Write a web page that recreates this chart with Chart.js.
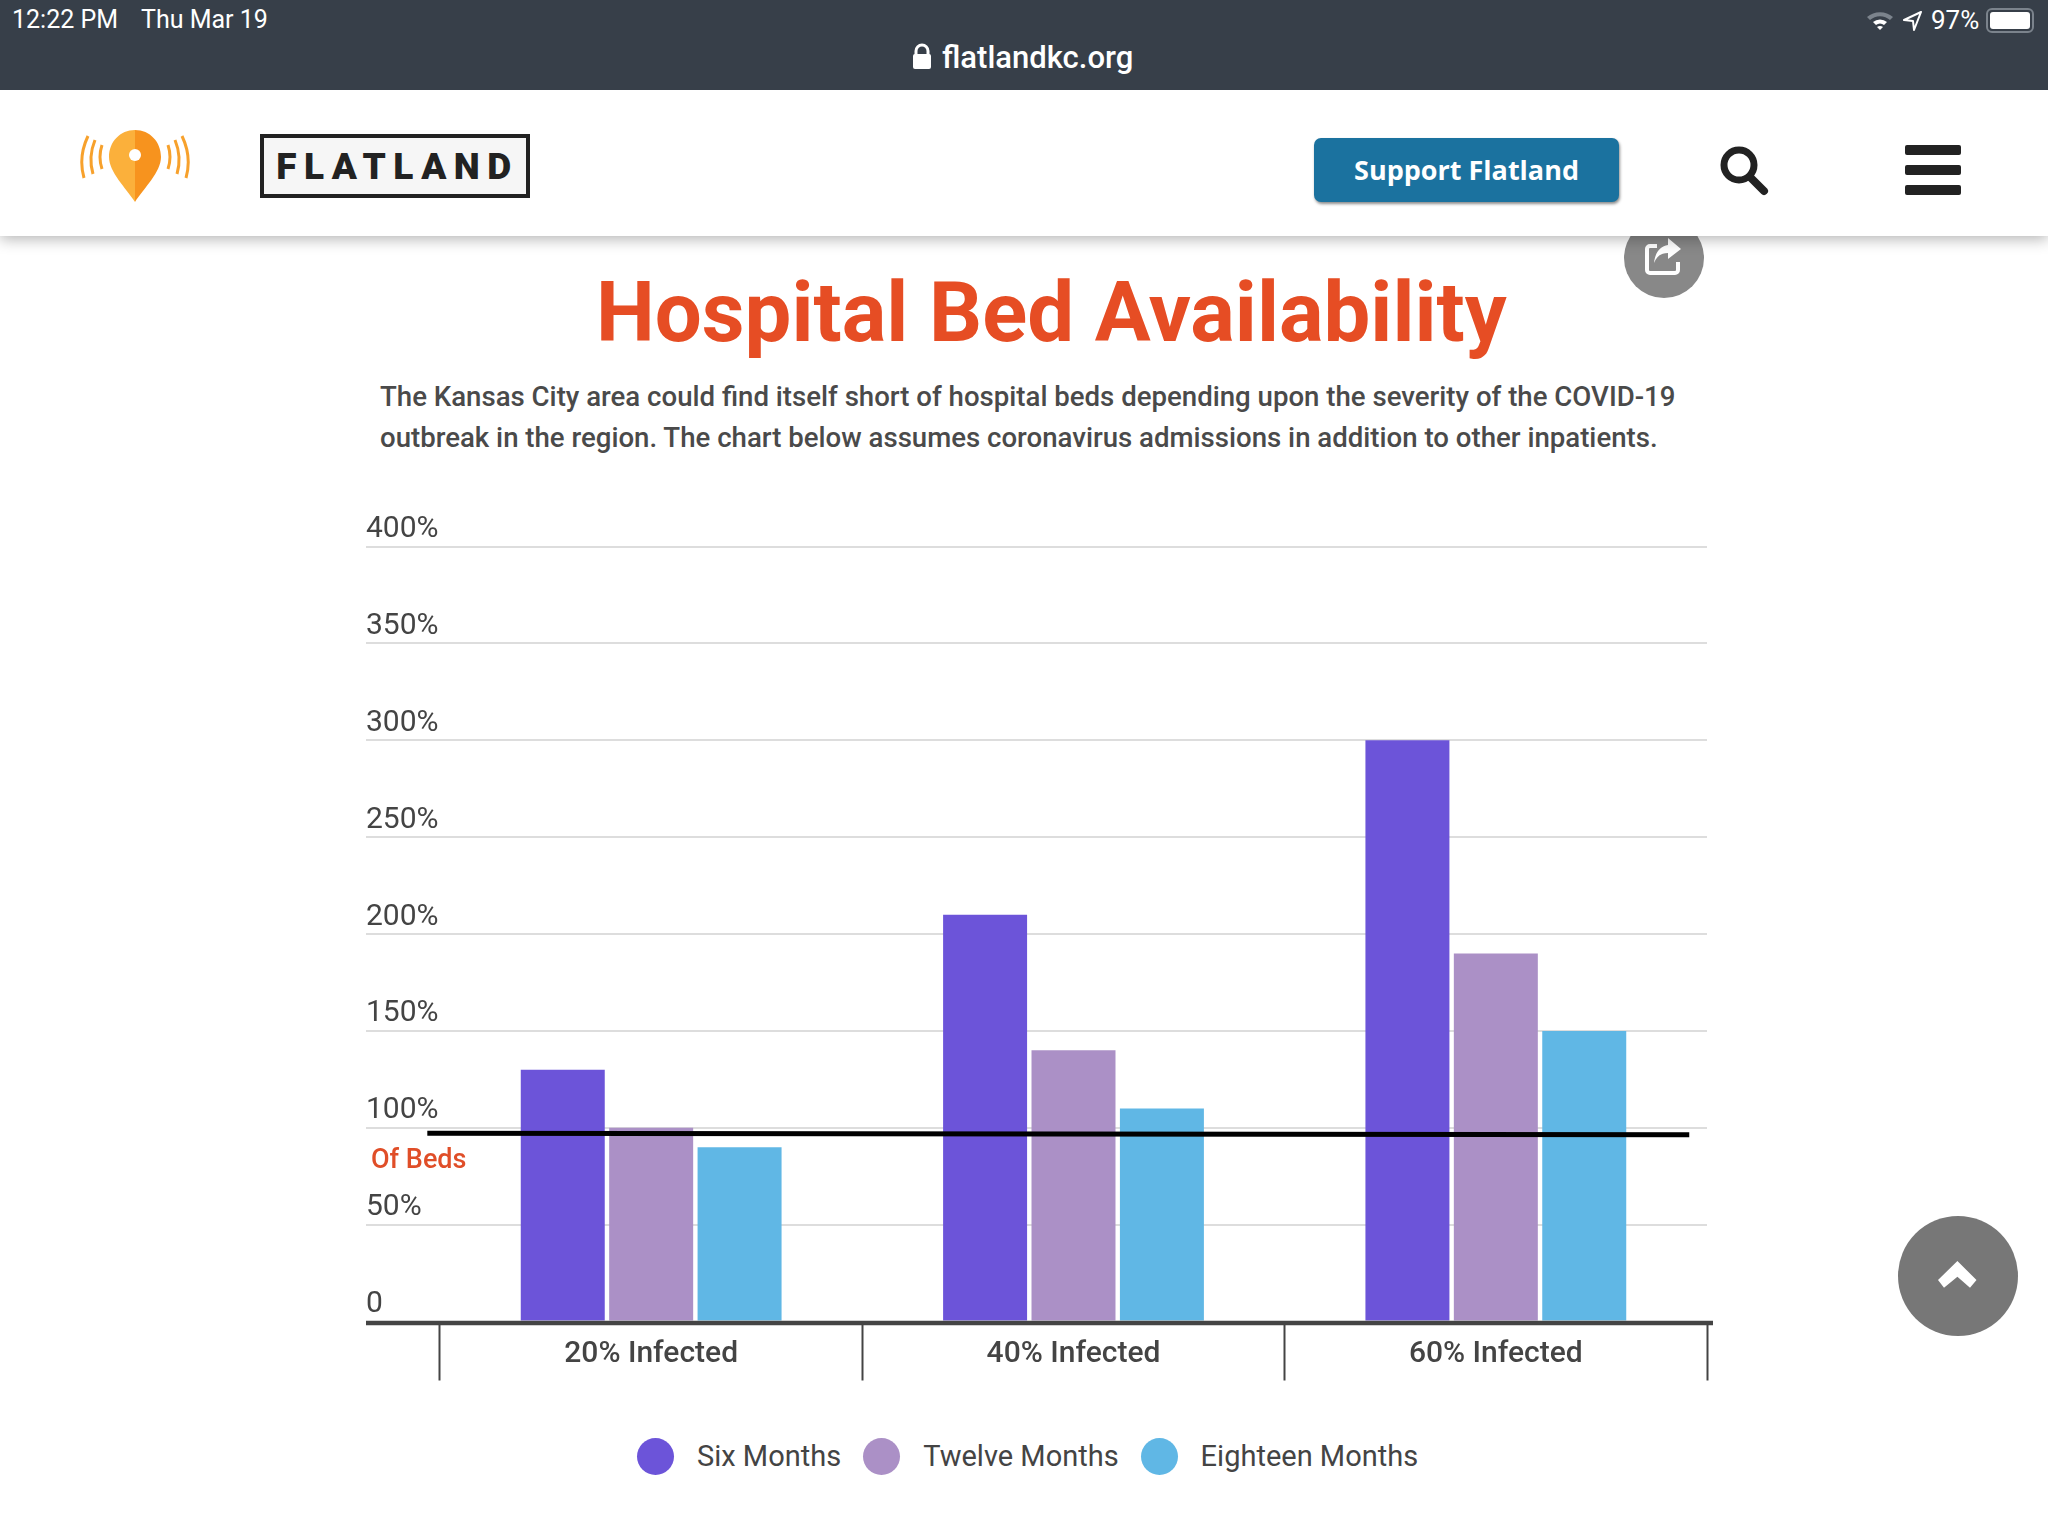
<!DOCTYPE html>
<html lang="en">
<head>
    <meta charset="UTF-8">
    <title>Hospital Bed Availability</title>
    <style>
        html, body { margin: 0; padding: 0; background: #fff; }
        body { width: 2048px; height: 1536px; position: relative; overflow: hidden; font-family: Roboto, sans-serif; color: #444; }
        .abs { position: absolute; white-space: nowrap; }
        #statusbar { left: 0; top: 0; width: 2048px; height: 90px; background: #373f49; z-index: 3; color: #fff; }
        #nav { left: 0; top: 90px; width: 2048px; height: 146px; background: #fff; box-shadow: 0 3px 14px rgba(0,0,0,0.3); z-index: 2; }
        #flatland { left: 260px; top: 134px; width: 262px; height: 56px; border: 4px solid #222; background: #f6f6f6; z-index: 3;
            font: 900 37px/57px Roboto, sans-serif; letter-spacing: 7.5px; text-indent: 5px; color: #222; text-align: center; }
        #support { left: 1314px; top: 138px; width: 305px; height: 64px; background: #1b729f; border-radius: 7px; box-shadow: 1px 2px 3px rgba(0,0,0,0.45); z-index: 3;
            color: #fff; font: 700 27px/64px "Open Sans", sans-serif; text-align: center; }
        #title { left: 596px; top: 263px; font: 700 83.3px/100px Roboto, sans-serif; color: #e64d24; }
        .para { left: 380px; font: 500 27.6px/36px Roboto, sans-serif; color: #4a4a4a; }
        #wrap { position: absolute; left: 340px; top: 500px; width: 1400px; height: 900px; }
        #ofBeds { left: 371px; top: 1143px; font: 500 27px/32px Roboto, sans-serif; color: #e04e28; }
        #legend { position: absolute; left: 637px; top: 1437px; height: 38px; display: flex; align-items: center; font-size: 29px; color: #444; }
        #legend .dot { width: 37px; height: 37px; border-radius: 50%; margin-right: 23px; }
        #legend .item { display: flex; align-items: center; margin-right: 22px; }
    </style>
</head>
<body>
    <div class="abs" id="statusbar">
        <div class="abs" style="left:12px;top:5px;font-size:25px;line-height:30px">12:22 PM</div>
        <div class="abs" style="left:141px;top:5px;font-size:25px;line-height:30px">Thu Mar 19</div>
        <div class="abs" style="left:942px;top:39px;font-size:31px;line-height:38px;font-weight:500">flatlandkc.org</div>
        <svg class="abs" style="left:912px;top:43px" width="20" height="27" viewBox="0 0 20 27">
            <path d="M4 12 V8 a6 6 0 0 1 12 0 V12" fill="none" stroke="#fff" stroke-width="3"/>
            <rect x="1" y="11" width="18" height="15" rx="2" fill="#fff"/>
        </svg>
        <svg class="abs" style="left:1866px;top:8px" width="30" height="24" viewBox="0 0 30 24">
            <path d="M1 9 a20 20 0 0 1 26 0 l-3 3 a15 15 0 0 0 -20 0 z" fill="#7b838c"/>
            <path d="M7 14 a11 11 0 0 1 14 0 l-3 3 a6 6 0 0 0 -8 0 z" fill="#fff"/>
            <path d="M11 19 a5 5 0 0 1 6 0 l-3 3 z" fill="#fff"/>
        </svg>
        <svg class="abs" style="left:1903px;top:11px" width="20" height="20" viewBox="0 0 20 20">
            <path d="M18 1 L1 9 L10 10 L11 19 Z" fill="none" stroke="#fff" stroke-width="2" stroke-linejoin="round"/>
        </svg>
        <div class="abs" style="left:1931px;top:5px;font-size:26px;line-height:30px">97%</div>
        <div class="abs" style="left:1986px;top:8px;width:44px;height:21px;border:2px solid #7b838c;border-radius:6px">
            <div class="abs" style="left:2px;top:2px;width:40px;height:17px;background:#fff;border-radius:3px"></div>
        </div>
    </div>

    <div class="abs" id="nav"></div>
    <svg class="abs" style="left:78px;top:128px;z-index:3" width="114" height="76" viewBox="0 0 114 76">
        <path d="M57 2 C42 2 31 14 31 29 C31 44 48 60 57 74 Z" fill="#fbb03b"/>
        <path d="M57 2 C72 2 83 14 83 29 C83 44 66 60 57 74 Z" fill="#f7931e"/>
        <circle cx="57" cy="27" r="6" fill="#fff"/>
        <g fill="none" stroke="#f7a12c" stroke-width="3">
            <path d="M10 8 Q0 29 6 50"/><path d="M17 12 Q10 29 15 46"/><path d="M24 17 Q20 29 24 41"/>
            <path d="M104 8 Q114 29 108 50"/><path d="M97 12 Q104 29 99 46"/><path d="M90 17 Q94 29 90 41"/>
        </g>
    </svg>
    <div class="abs" id="flatland">FLATLAND</div>
    <div class="abs" id="support">Support Flatland</div>
    <svg class="abs" style="left:1718px;top:144px;z-index:3" width="52" height="52" viewBox="0 0 52 52">
        <circle cx="21" cy="21" r="15" fill="none" stroke="#222" stroke-width="7"/>
        <path d="M32 33 L46 47" stroke="#222" stroke-width="8" stroke-linecap="round"/>
    </svg>
    <svg class="abs" style="left:1905px;top:145px;z-index:3" width="56" height="50" viewBox="0 0 56 50">
        <rect width="56" height="10" y="0" rx="2" fill="#222"/>
        <rect width="56" height="10" y="20" rx="2" fill="#222"/>
        <rect width="56" height="10" y="40" rx="2" fill="#222"/>
    </svg>
    <svg class="abs" style="left:1624px;top:218px;z-index:1" width="80" height="80" viewBox="0 0 80 80">
        <circle cx="40" cy="40" r="40" fill="#888"/>
        <path d="M33 28 H26 a3 3 0 0 0 -3 3 V52 a3 3 0 0 0 3 3 H51 a3 3 0 0 0 3 -3 V44" fill="none" stroke="#fff" stroke-width="4"/>
        <path d="M44 20 L57 31 L44 41 V35 C37 35 33 38 30 45 C31 35 36 28 44 27 Z" fill="#fff"/>
    </svg>

    <div class="abs" id="title">Hospital Bed Availability</div>
    <div class="abs para" style="top:379px">The Kansas City area could find itself short of hospital beds depending upon the severity of the COVID-19</div>
    <div class="abs para" style="top:420px">outbreak in the region. The chart below assumes coronavirus admissions in addition to other inpatients.</div>

    <div id="wrap"><canvas id="chart"></canvas></div>
    <div class="abs" id="ofBeds">Of Beds</div>
    <div id="legend"></div>

    <svg class="abs" style="left:1898px;top:1216px" width="120" height="120" viewBox="0 0 120 120">
        <circle cx="60" cy="60" r="60" fill="#777"/>
        <path d="M59.4 45 L78.5 64 L72 71.7 L59.4 60.7 L46 71.7 L40 64 Z" fill="#fff"/>
    </svg>

    <script src="https://cdn.jsdelivr.net/npm/chart.js"></script>
    <script>
        const categories = ['20% Infected', '40% Infected', '60% Infected'];
        const sixMonths = [130, 210, 300];
        const twelveMonths = [100, 140, 190];
        const eighteenMonths = [90, 110, 150];
        const yTickLabels = ['0', '50%', '100%', '150%', '200%', '250%', '300%', '350%', '400%'];

        // the hand drawn black line, x is percent of the plot width
        const refLineX = [-1, 98.6];
        const refLineY = [97.2, 96.4];

        const axisColor = '#444';
        const gridColor = '#ddd';

        // baseline runs past the plot on both sides, black line goes over the bars
        const overlays = {
            id: 'overlays',
            afterDatasetsDraw(chart) {
                const ctx = chart.ctx;
                const sx = chart.scales.xLine;
                const sy = chart.scales.y;
                const y0 = sy.getPixelForValue(0) + 1.5;
                ctx.save();
                ctx.strokeStyle = axisColor;
                ctx.lineWidth = 4.5;
                ctx.beginPath();
                ctx.moveTo(sy.left, y0);
                ctx.lineTo(chart.chartArea.right + 6, y0);
                ctx.stroke();
                ctx.strokeStyle = '#000';
                ctx.lineWidth = 5;
                ctx.beginPath();
                ctx.moveTo(sx.getPixelForValue(refLineX[0]), sy.getPixelForValue(refLineY[0]));
                ctx.lineTo(sx.getPixelForValue(refLineX[1]), sy.getPixelForValue(refLineY[1]));
                ctx.stroke();
                ctx.restore();
            }
        };

        const chart = new Chart(document.getElementById('chart'), {
            type: 'bar',
            data: {
                labels: categories,
                datasets: [
                    { label: 'Six Months', data: sixMonths, backgroundColor: '#6c54d9' },
                    { label: 'Twelve Months', data: twelveMonths, backgroundColor: '#ab90c6' },
                    { label: 'Eighteen Months', data: eighteenMonths, backgroundColor: '#60b7e5' }
                ]
            },
            options: {
                responsive: true,
                maintainAspectRatio: false,
                animation: false,
                layout: { padding: { left: 26, right: 33, top: 46.5, bottom: 18.5 } },
                barPercentage: 0.95,
                categoryPercentage: 0.628,
                plugins: { legend: { display: false }, tooltip: { enabled: false } },
                scales: {
                    x: {
                        grid: { offset: true, drawOnChartArea: false, tickLength: 59, tickColor: axisColor, tickWidth: 2 },
                        border: { display: false },
                        ticks: { color: axisColor, font: { family: 'Roboto', size: 30, weight: 500 }, padding: -44, autoSkip: false, maxRotation: 0 },
                        afterFit(scale) { scale.height = 60; }
                    },
                    xLine: { type: 'linear', display: false, offset: false, min: 0, max: 100 },
                    y: {
                        min: 0,
                        max: 400,
                        grid: { color: gridColor, lineWidth: 2, tickLength: 74 },
                        border: { display: false },
                        ticks: {
                            stepSize: 50,
                            color: axisColor,
                            font: { family: 'Roboto', size: 30 },
                            crossAlign: 'far',
                            padding: 0,
                            labelOffset: -17,
                            callback: (v, i) => yTickLabels[i]
                        },
                        afterFit(scale) { scale.width = 74; }
                    }
                }
            },
            plugins: [overlays]
        });

        // legend sits under the chart, same entries as the datasets
        const legendEl = document.getElementById('legend');
        chart.data.datasets.forEach(d => {
            const item = document.createElement('div');
            item.className = 'item';
            item.innerHTML = '<div class="dot" style="background:' + d.backgroundColor + '"></div><span>' + d.label + '</span>';
            legendEl.appendChild(item);
        });
    </script>
</body>
</html>
